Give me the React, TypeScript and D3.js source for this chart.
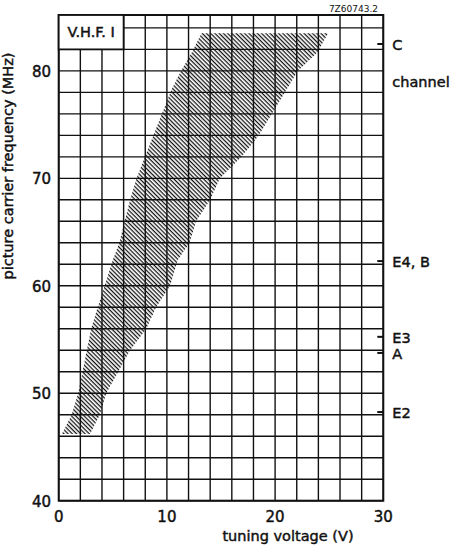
import React from "react";
import * as d3 from "d3";

const W = 452;
const H = 549;

// axis ticks
const xTicks = [0, 10, 20, 30];
const yTicks = [40, 50, 60, 70, 80];
const xGrid = d3.range(0, 31, 2);
const yGrid = d3.range(40, 85, 2);

// hatched tuning range: left edge (bottom→top), right edge (top→bottom)
const leftEdgeV = [0.3, 1.2, 1.8, 2.6, 3.0, 3.6, 4.25, 5.0, 5.6, 6.1, 6.6, 7.2, 8.2, 10.4, 11.3, 12.3, 13.2];
const leftEdgeF = [46.2, 48, 50, 54, 56, 58, 60, 62.4, 64, 66, 68, 70, 72.6, 78.2, 80, 81.7, 83.5];
const rightEdgeV = [24.9, 23.9, 22.1, 18.5, 16.9, 14.9, 14.0, 12.7, 12.1, 11.0, 10.3, 9.0, 8.1, 6.6, 4.4, 3.8, 2.9];
const rightEdgeF = [83.5, 81.7, 80, 74, 72, 70, 68, 66, 64, 62.4, 60, 58, 56, 54, 50, 48, 46.2];

// channel markers on right axis
const channelNames = ["C", "E4, B", "E3", "A", "E2"];
const channelFreqs = [82.5, 62.3, 55.25, 53.75, 48.25];

export default function App() {
  const x = d3.scaleLinear().domain([0, 30]).range([58.7, 383.3]);
  const y = d3.scaleLinear().domain([40, 85.2]).range([500.7, 15]);

  const pts: [number, number][] = [
    ...leftEdgeV.map((v, i) => [x(v), y(leftEdgeF[i])] as [number, number]),
    ...rightEdgeV.map((v, i) => [x(v), y(rightEdgeF[i])] as [number, number]),
  ];
  const area = d3.line()(pts) + "Z";

  const font = "'DejaVu Sans', sans-serif";
  const ink = "#111";
  const top = y(85.2);
  const bottom = y(40);
  const left = x(0);
  const right = x(30);
  const textStroke = { stroke: ink, strokeWidth: 0.45 };

  return (
    <svg
      width={W}
      height={H}
      style={{ position: "absolute", left: 0, top: 0, background: "#fff" }}
      fontFamily={font}
    >
      <defs>
        <pattern
          id="hatch"
          patternUnits="userSpaceOnUse"
          width={3}
          height={3}
          patternTransform="rotate(45)"
        >
          <rect x={0} y={0} width={3} height={1.25} fill="#111" />
        </pattern>
      </defs>
      <rect x={0} y={0} width={W} height={H} fill="#fff" />

      {/* hatched region */}
      <path d={area} fill="url(#hatch)" />

      {/* grid */}
      <g stroke={ink} strokeWidth={1.4}>
        {xGrid.map((v) => (
          <line key={"vx" + v} x1={x(v)} x2={x(v)} y1={top} y2={bottom} />
        ))}
        {yGrid.map((f) => (
          <line key={"hy" + f} x1={left} x2={right} y1={y(f)} y2={y(f)} />
        ))}
      </g>
      <rect
        x={left}
        y={top}
        width={right - left}
        height={bottom - top}
        fill="none"
        stroke={ink}
        strokeWidth={2}
      />

      {/* V.H.F. I box */}
      <rect
        x={left}
        y={top}
        width={x(6) - left}
        height={y(82) - top}
        fill="#fff"
        stroke={ink}
        strokeWidth={1.8}
      />
      <text
        x={(left + x(6)) / 2}
        y={(top + y(82)) / 2}
        fontSize={14.5}
        textAnchor="middle"
        dominantBaseline="central"
        fill={ink}
        {...textStroke}
      >
        V.H.F. I
      </text>

      {/* y tick labels */}
      {yTicks.map((f) => (
        <text
          key={"yt" + f}
          x={51}
          y={y(f) + 1}
          fontSize={15}
          textAnchor="end"
          dominantBaseline="central"
          fill={ink}
          {...textStroke}
        >
          {f}
        </text>
      ))}

      {/* x tick labels */}
      {xTicks.map((v) => (
        <text
          key={"xt" + v}
          x={x(v)}
          y={bottom + 16}
          fontSize={15}
          textAnchor="middle"
          dominantBaseline="central"
          fill={ink}
          {...textStroke}
        >
          {v}
        </text>
      ))}

      {/* axis titles */}
      <text
        x={288}
        y={541}
        fontSize={14.5}
        textAnchor="middle"
        fill={ink}
        {...textStroke}
      >
        tuning voltage (V)
      </text>
      <text
        transform={`translate(13, 166) rotate(-90)`}
        fontSize={14.5}
        textAnchor="middle"
        fill={ink}
        {...textStroke}
      >
        picture carrier frequency (MHz)
      </text>

      {/* channel markers */}
      {channelNames.map((c, i) => (
        <g key={"ch" + c}>
          <line
            x1={right - 6}
            x2={right}
            y1={y(channelFreqs[i])}
            y2={y(channelFreqs[i])}
            stroke={ink}
            strokeWidth={2}
          />
          <text
            x={right + 9}
            y={y(channelFreqs[i]) + 1}
            fontSize={14.5}
            dominantBaseline="central"
            fill={ink}
            {...textStroke}
          >
            {c}
          </text>
        </g>
      ))}
      <text
        x={right + 9}
        y={y(79.1) + 1}
        fontSize={14.5}
        dominantBaseline="central"
        fill={ink}
        {...textStroke}
      >
        channel
      </text>

      {/* drawing code */}
      <text x={378} y={12} fontSize={9} textAnchor="end" fill={ink}>
        7Z60743.2
      </text>
    </svg>
  );
}
